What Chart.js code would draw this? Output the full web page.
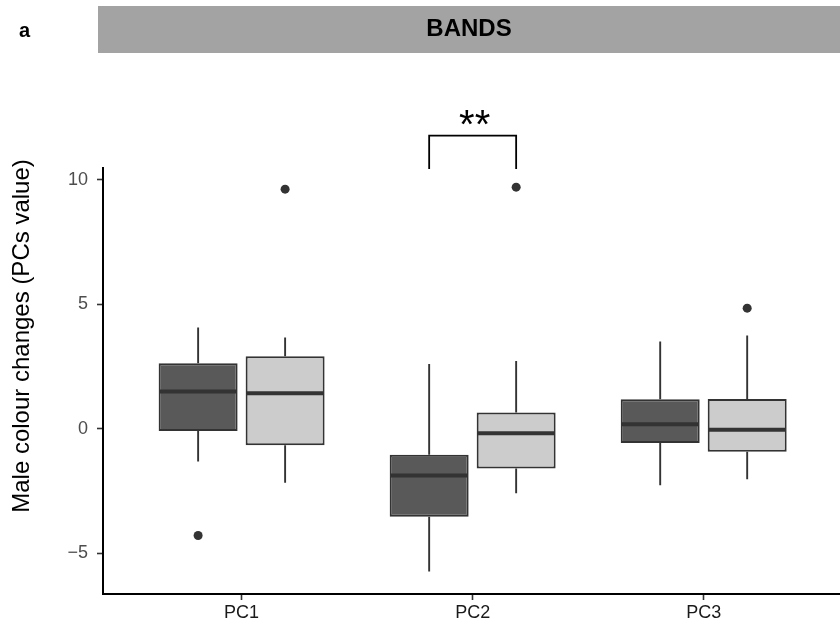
<!DOCTYPE html>
<html>
<head>
<meta charset="utf-8">
<script src="https://cdn.jsdelivr.net/npm/chart.js@4.4.1/dist/chart.umd.min.js"></script>
<style>
  html, body { margin: 0; padding: 0; background: #fff; }
  #wrap { width: 840px; height: 631px; }
</style>
</head>
<body>
<div id="wrap"><canvas id="myChart" width="840" height="631"></canvas></div>
<script>

var categories = ['PC1', 'PC2', 'PC3'];

// first group (dark boxes)
var darkLow = [-1.31, -5.73, -2.26];
var darkQ1 = [-0.08, -3.53, -0.57];
var darkMedian = [1.50, -1.87, 0.19];
var darkQ3 = [2.64, -1.04, 1.19];
var darkHigh = [4.07, 2.61, 3.51];
var darkOutliers = [[-4.28], [], []];

// second group (light boxes)
var lightLow = [-2.16, -2.58, -2.02];
var lightQ1 = [-0.66, -1.59, -0.92];
var lightMedian = [1.43, -0.17, -0.03];
var lightQ3 = [2.92, 0.66, 1.20];
var lightHigh = [3.67, 2.73, 3.75];
var lightOutliers = [[9.63], [9.71], [4.85]];

var yTicks = [-5, 0, 5, 10];
var yMin = -6.63;
var yMax = 10.48;

// significance bracket between the two boxes of PC2
var sigCategory = 'PC2';
var sigLow = 10.44;
var sigHigh = 11.78;
var sigLabel = '**';

var panelTitle = 'BANDS';
var panelTag = 'a';
var yTitle = 'Male colour changes (PCs value)';

var FONT = '"Liberation Sans", Arial, Helvetica, sans-serif';
var boxColors = ['#595959', '#CCCCCC'];
var lineColor = '#333333';

var groups = [
  { low: darkLow, q1: darkQ1, median: darkMedian, q3: darkQ3, high: darkHigh, outliers: darkOutliers },
  { low: lightLow, q1: lightQ1, median: lightMedian, q3: lightQ3, high: lightHigh, outliers: lightOutliers }
];

var boxExtras = {
  id: 'boxExtras',

  beforeDatasetsDraw: function(chart) {
    var ctx = chart.ctx;
    var y = chart.scales.y;

    // whiskers go behind the boxes
    ctx.save();
    ctx.strokeStyle = lineColor;
    ctx.lineWidth = 1.9;
    groups.forEach(function(g, d) {
      chart.getDatasetMeta(d).data.forEach(function(bar, i) {
        ctx.beginPath();
        ctx.moveTo(bar.x, y.getPixelForValue(g.high[i]));
        ctx.lineTo(bar.x, y.getPixelForValue(g.q3[i]));
        ctx.moveTo(bar.x, y.getPixelForValue(g.q1[i]));
        ctx.lineTo(bar.x, y.getPixelForValue(g.low[i]));
        ctx.stroke();
      });
    });
    ctx.restore();
  },

  afterDatasetsDraw: function(chart) {
    var ctx = chart.ctx;
    var y = chart.scales.y;

    ctx.save();
    groups.forEach(function(g, d) {
      chart.getDatasetMeta(d).data.forEach(function(bar, i) {
        // median
        var my = y.getPixelForValue(g.median[i]);
        ctx.strokeStyle = lineColor;
        ctx.lineWidth = 4;
        ctx.beginPath();
        ctx.moveTo(bar.x - bar.width / 2 + 1, my);
        ctx.lineTo(bar.x + bar.width / 2 - 1, my);
        ctx.stroke();

        // outliers
        ctx.fillStyle = lineColor;
        g.outliers[i].forEach(function(v) {
          ctx.beginPath();
          ctx.arc(bar.x, y.getPixelForValue(v), 4.5, 0, Math.PI * 2);
          ctx.fill();
        });
      });
    });

    // significance bracket
    var k = categories.indexOf(sigCategory);
    var b0 = chart.getDatasetMeta(0).data[k];
    var b1 = chart.getDatasetMeta(1).data[k];
    var yl = y.getPixelForValue(sigLow);
    var yh = y.getPixelForValue(sigHigh);
    ctx.strokeStyle = '#000';
    ctx.lineWidth = 1.8;
    ctx.beginPath();
    ctx.moveTo(b0.x, yl);
    ctx.lineTo(b0.x, yh);
    ctx.lineTo(b1.x, yh);
    ctx.lineTo(b1.x, yl);
    ctx.stroke();

    ctx.fillStyle = '#000';
    ctx.font = '40px ' + FONT;
    ctx.textAlign = 'center';
    ctx.textBaseline = 'alphabetic';
    ctx.fillText(sigLabel, (b0.x + b1.x) / 2 + 2, yh + 2);
    ctx.restore();
  },

  afterDraw: function(chart) {
    var ctx = chart.ctx;
    ctx.save();

    // strip header
    ctx.fillStyle = '#A3A3A3';
    ctx.fillRect(98, 6, 742, 47);
    ctx.fillStyle = '#000';
    ctx.font = 'bold 24px ' + FONT;
    ctx.textAlign = 'center';
    ctx.textBaseline = 'alphabetic';
    ctx.fillText(panelTitle, 469, 36);

    ctx.font = 'bold 20px ' + FONT;
    ctx.textAlign = 'left';
    ctx.fillText(panelTag, 19, 37);

    // y axis title
    ctx.translate(22, 336);
    ctx.rotate(-Math.PI / 2);
    ctx.font = '24px ' + FONT;
    ctx.textAlign = 'center';
    ctx.textBaseline = 'middle';
    ctx.fillText(yTitle, 0, 0);
    ctx.restore();
  }
};

function drawChart() {

  var ctx = document.getElementById('myChart').getContext('2d');

  var chart = new Chart(ctx, {
    type: 'bar',
    data: {
      datasets: groups.map(function(g, d) {
        return {
          data: categories.map(function(c, i) {
            return { x: i + 1, y: [g.q1[i], g.q3[i]] };
          }),
          backgroundColor: boxColors[d],
          borderColor: lineColor,
          borderWidth: 2,
          borderSkipped: false,
          categoryPercentage: 0.753,
          barPercentage: 0.908
        };
      })
    },
    options: {
      responsive: false,
      animation: false,
      layout: { padding: { top: 168, left: 0, right: 0, bottom: 0 } },
      plugins: {
        legend: { display: false },
        tooltip: { enabled: false }
      },
      scales: {
        x: {
          type: 'linear',
          min: 0.4,
          max: 3.59,
          offset: false,
          afterBuildTicks: function(scale) {
            scale.ticks = categories.map(function(c, i) { return { value: i + 1 }; });
          },
          afterFit: function(scale) { scale.height = 37; },
          grid: {
            offset: false,
            display: true,
            drawOnChartArea: false,
            drawTicks: true,
            tickLength: 6,
            tickColor: lineColor,
            tickWidth: 1.6
          },
          border: { display: true, color: '#000', width: 2 },
          ticks: {
            color: '#1A1A1A',
            font: { family: FONT, size: 18 },
            padding: 2,
            autoSkip: false,
            maxRotation: 0,
            callback: function(v) { return categories[v - 1]; }
          }
        },
        y: {
          min: yMin,
          max: yMax,
          afterBuildTicks: function(scale) {
            scale.ticks = yTicks.map(function(v) { return { value: v }; });
          },
          afterFit: function(scale) { scale.width = 103; },
          grid: {
            display: true,
            drawOnChartArea: false,
            drawTicks: true,
            tickLength: 6,
            tickColor: lineColor,
            tickWidth: 1.6
          },
          border: { display: true, color: '#000', width: 2 },
          ticks: {
            color: '#4D4D4D',
            font: { family: FONT, size: 18 },
            padding: 9,
            callback: function(v) { return v < 0 ? '\u2212' + Math.abs(v) : v; }
          }
        }
      }
    },
    plugins: [boxExtras]
  });
}

drawChart();
</script>
</body>
</html>
